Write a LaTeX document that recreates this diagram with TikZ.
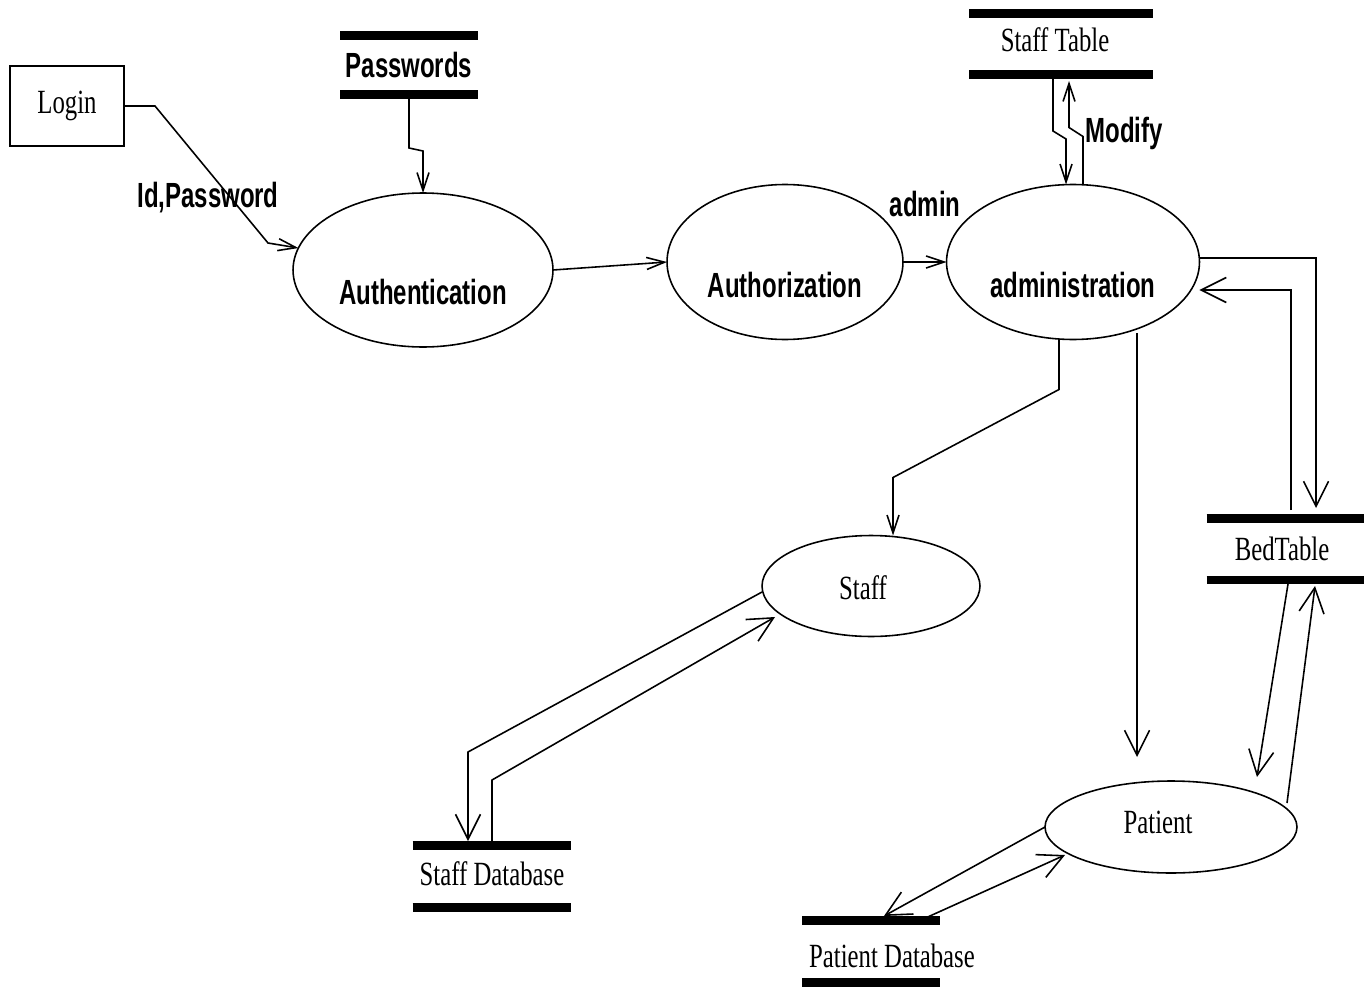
\documentclass[tikz,border=0pt]{standalone}
\usepackage{graphicx}
\usepackage{fontspec}
\setmainfont{Liberation Serif}
\setsansfont{Liberation Sans}
\usetikzlibrary{shapes.geometric,arrows.meta,calc}

% horizontally condensed text
\newcommand\squeezed[2]{\scalebox{#1}[1]{#2}}

\tikzset{
  every node/.style={inner sep=0pt, outer sep=0pt},
  process/.style={ellipse, draw, line width=0.9pt},
  entity/.style={rectangle, draw, line width=1pt, minimum width=2.28cm, minimum height=1.6cm},
  storebar/.style={draw, line width=0.18cm},
  store/.style={rectangle, minimum height=1.24cm,
    append after command={(\tikzlastnode.north west) edge[storebar] (\tikzlastnode.north east)
                          (\tikzlastnode.south west) edge[storebar] (\tikzlastnode.south east)}},
  serifname/.style={font=\fontsize{19.3pt}{22pt}\selectfont},
  sansname/.style={font=\fontsize{19.9pt}{23pt}\selectfont\sffamily\bfseries},
  flow/.style={draw, line width=0.9pt, -{Straight Barb[length=0.5cm, width=0.5cm]}},
  thinflow/.style={draw, line width=0.9pt, -{Straight Barb[length=0.36cm, width=0.24cm]}},
}

\begin{document}
\begin{tikzpicture}[x=0.02cm, y=-0.02cm]
\useasboundingbox (0,0) rectangle (1372,990);
\fill[white] (0,0) rectangle (1372,990);

% external entity
\node[entity, serifname] (login) at (67,106) {\squeezed{0.73}{Login}};

% data stores
\node[store, minimum width=2.76cm, minimum height=1.2cm,
  label={[sansname, name=pwtext]center:\squeezed{0.686}{Passwords}}] (pw) at (409,65) {};
\node[store, minimum width=3.68cm,
  label={[serifname, xshift=-0.12cm, yshift=0.08cm, name=sttext]center:\squeezed{0.73}{Staff Table}}] (st) at (1061,44) {};
\node[store, minimum width=3.14cm,
  label={[serifname, xshift=-0.06cm, name=bedtext]center:\squeezed{0.73}{BedTable}}] (bed) at (1285,549) {};
\node[store, minimum width=3.18cm,
  label={[serifname, yshift=0.04cm, name=sdbtext]center:\squeezed{0.73}{Staff Database}}] (sdb) at (492,876) {};
\node[store, minimum width=2.76cm,
  label={[serifname, xshift=0.42cm, yshift=-0.1cm, name=pdbtext]center:\squeezed{0.73}{Patient Database}}] (pdb) at (871,951) {};

% processes
\node[process, minimum width=5.2cm, minimum height=3.08cm,
  label={[sansname, yshift=-0.44cm, name=authtext]center:\squeezed{0.686}{Authentication}}] (auth) at (423,270) {};
\node[process, minimum width=4.72cm, minimum height=3.1cm,
  label={[sansname, yshift=-0.46cm, name=authztext]center:\squeezed{0.686}{Authorization}}] (authz) at (785,262) {};
\node[process, minimum width=5.06cm, minimum height=3.1cm,
  label={[sansname, yshift=-0.46cm, name=admintext]center:\squeezed{0.686}{administration}}] (admin) at (1073,262) {};
\node[process, minimum width=4.36cm, minimum height=2.02cm,
  label={[serifname, xshift=-0.16cm, yshift=-0.04cm, name=stafftext]center:\squeezed{0.73}{Staff}}] (staff) at (871,586) {};
\node[process, minimum width=5.04cm, minimum height=1.84cm,
  label={[serifname, xshift=-0.26cm, yshift=0.1cm, name=patienttext]center:\squeezed{0.73}{Patient}}] (patient) at (1171,827) {};

% flow labels
\node[sansname] (idpw) at (208,198) {\squeezed{0.686}{Id,Password}};
\node[sansname] (adminlbl) at (925,204) {\squeezed{0.686}{admin}};
\node[sansname] (modify) at (1124,133) {\squeezed{0.686}{Modify}};

% login and access control chain
\draw[thinflow] (login.east) -- ++(31,0) -- (268,243) -- (auth.170);
\draw[thinflow] (pw.south) -- ++(0,53) -- ($(auth.north)+(0,-42)$) -- (auth.north);
\draw[thinflow] (auth.east) -- (authz.west);
\draw[thinflow] (authz.east) -- (admin.west);

% staff table read / modify
\draw[thinflow] ($(st.south)+(-8,0)$) -- ++(0,56) -- ++(13,8) -- ($(admin.north)+(-7,0)$);
\draw[thinflow] ($(admin.north)+(10,0)$) -- ++(0,-48) -- ++(-14,-9) -- ($(st.south)+(8,6)$);

% bed table
\draw[flow] ($(admin.east)+(0,-4)$) -| ($(bed.north)+(31,-10)$);
\draw[flow] ($(bed.north)+(6,-8)$) |- ($(admin.east)+(0,28)$);

% administration to staff and patient
\draw[thinflow] ($(admin.south)+(-14,0)$) -- ++(0,50) -- ($(staff.north)+(22,-58)$) -- ($(staff.north)+(22,0)$);
\draw[flow] ($(admin.south)+(64,-6)$) -- ($(patient.north)+(-34,-24)$);

% patient and bed table
\draw[flow] ($(bed.south)+(3,4)$) -- ($(patient.north)+(86,-4)$);
\draw[flow] ($(patient.north)+(116,22)$) -- ($(bed.south)+(30,6)$);

% staff and staff database
\draw[flow] ($(staff.west)+(0,6)$) -- ($(sdb.north)+(-24,-93)$) -- ($(sdb.north)+(-24,-4)$);
\draw[flow] (sdb.north) -- ++(0,-65) -- ($(staff.west)+(13,31)$);

% patient and patient database
\draw[flow] (patient.west) -- ($(pdb.north)+(13,-4)$);
\draw[flow] ($(pdb.north)+(50,0)$) -- ($(patient.west)+(20,28)$);
\end{tikzpicture}
\end{document}
